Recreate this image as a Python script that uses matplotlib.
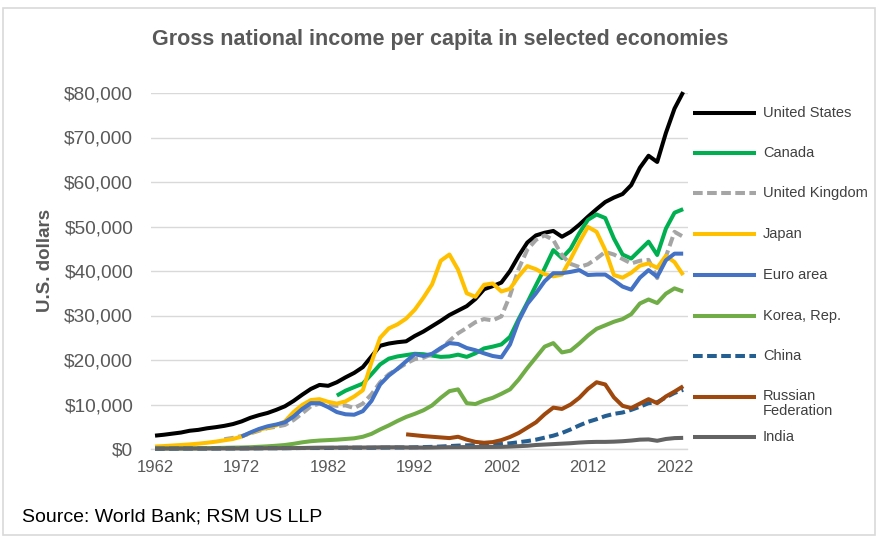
import matplotlib
matplotlib.use('Agg')
import matplotlib.pyplot as plt
from matplotlib.lines import Line2D
from matplotlib.patches import Rectangle

plt.rcParams['font.family'] = ['Liberation Sans', 'DejaVu Sans']

# ---------------- data ----------------
years_us = list(range(1962, 2024))
us = [3000, 3200, 3450, 3700, 4100, 4300, 4650, 4900, 5200, 5600,
      6200, 7000, 7600, 8100, 8800, 9600, 10800, 12200, 13500, 14400,
      14200, 15000, 16100, 17100, 18400, 20800, 23200, 23700, 24000, 24200,
      25400, 26400, 27600, 28800, 30100, 31100, 32100, 33700, 35900, 36600,
      37400, 40000, 43400, 46400, 48000, 48600, 49000, 47700, 48800, 50400,
      52200, 53900, 55500, 56500, 57300, 59300, 63200, 65900, 64500, 71000,
      76500, 80200]

years_ca = list(range(1983, 2024))
canada = [12000, 13100, 13900, 14700, 16800, 19000, 20300, 20800, 21100, 21400,
          21300, 21000, 20700, 20800, 21200, 20700, 21500, 22600, 23000, 23500,
          25200, 29200, 32900, 36800, 40600, 44700, 42900, 45000, 48500, 51500,
          52700, 51900, 47300, 43700, 42800, 44700, 46600, 43600, 49500, 53100,
          53900]

years_uk = list(range(1970, 2024))
uk = [2200, 2500, 2900, 3500, 4100, 4700, 5000, 5400, 6500, 8000,
      9600, 10200, 9900, 9700, 9800, 9200, 10200, 12300, 15000, 16800,
      18000, 19200, 20200, 20500, 21300, 22500, 24300, 26000, 27200, 28500,
      29200, 28900, 29800, 34500, 40500, 44800, 47000, 48000, 47000, 43500,
      41600, 40900, 41500, 42800, 44300, 43700, 42700, 41700, 42300, 42500,
      38400, 43200, 48800, 47700]

years_jp = list(range(1962, 2024))
japan = [550, 650, 780, 900, 1030, 1200, 1400, 1650, 1950, 2250,
         2800, 3600, 4300, 4800, 5300, 6200, 8300, 9900, 11000, 11200,
         10600, 10200, 10700, 11800, 13200, 19500, 25000, 27100, 28000, 29300,
         31300, 34000, 37000, 42300, 43700, 40300, 35000, 34200, 36900, 37200,
         35400, 36000, 38800, 41100, 40400, 39300, 38800, 39200, 42700, 46500,
         49900, 48800, 44700, 39100, 38500, 39600, 41200, 41700, 40700, 43400,
         42000, 39100]

years_eu = list(range(1972, 2024))
euro = [2800, 3700, 4500, 5100, 5500, 6000, 7300, 9000, 10300, 10300,
        9400, 8300, 7800, 7700, 8500, 10800, 14500, 16500, 18000, 19700,
        21300, 20900, 21400, 22700, 23800, 23600, 22700, 22200, 21500, 20900,
        20600, 23500, 28800, 32600, 35000, 37700, 39500, 39500, 39800, 40200,
        39100, 39200, 39200, 37900, 36500, 35800, 38500, 40200, 38700, 42400,
        43900, 43900]

years_kr = list(range(1962, 2024))
korea = [110, 120, 120, 120, 140, 160, 190, 230, 270, 310,
         340, 400, 500, 600, 740, 900, 1170, 1500, 1750, 1900,
         2000, 2100, 2250, 2400, 2750, 3400, 4400, 5300, 6300, 7200,
         7900, 8700, 9800, 11500, 13000, 13400, 10300, 10100, 10900, 11500,
         12400, 13400, 15600, 18200, 20600, 23000, 23800, 21700, 22100, 23700,
         25500, 27000, 27800, 28600, 29200, 30300, 32700, 33600, 32800, 34900,
         36100, 35400]

years_cn = list(range(1962, 2024))
china = [70, 70, 80, 100, 110, 100, 90, 100, 110, 120,
         130, 140, 150, 170, 160, 180, 200, 220, 220, 220,
         230, 260, 300, 300, 290, 270, 300, 320, 330, 340,
         380, 430, 480, 560, 660, 760, 820, 870, 940, 1020,
         1110, 1280, 1520, 1780, 2100, 2550, 3000, 3600, 4400, 5300,
         6100, 6700, 7400, 7900, 8200, 8800, 9500, 10300, 10500, 11600,
         12600, 13300]

years_ru = list(range(1991, 2024))
russia = [3300, 3100, 2900, 2750, 2600, 2450, 2750, 2100, 1600, 1400,
          1550, 2000, 2700, 3600, 4800, 6000, 7800, 9300, 9000, 10000,
          11500, 13500, 15000, 14500, 11600, 9700, 9200, 10200, 11200, 10300,
          11800, 12900, 14100]

years_in = list(range(1962, 2024))
india = [90, 100, 110, 120, 110, 110, 110, 110, 120, 120,
         120, 130, 150, 170, 180, 190, 210, 230, 270, 300,
         310, 310, 310, 320, 330, 350, 380, 380, 390, 350,
         340, 320, 340, 380, 410, 420, 430, 440, 450, 460,
         480, 540, 630, 730, 900, 1000, 1100, 1200, 1300, 1450,
         1550, 1600, 1600, 1650, 1750, 1900, 2100, 2150, 1850, 2250,
         2450, 2500]

series_names = ["United States", "Canada", "United Kingdom", "Japan", "Euro area",
                "Korea, Rep.", "China", "Russian\nFederation", "India"]
series_years = [years_us, years_ca, years_uk, years_jp, years_eu,
                years_kr, years_cn, years_ru, years_in]
series_vals = [us, canada, uk, japan, euro, korea, china, russia, india]
colors = ["#000000", "#00B050", "#A5A5A5", "#FFC000", "#4472C4",
          "#70AD47", "#255E91", "#9E480E", "#636363"]
dashed = [False, False, True, False, False, False, True, False, False]

xticks = list(range(1962, 2023, 10))
yticks = list(range(0, 80001, 10000))

# ---------------- figure ----------------
W, H = 885, 542
fig = plt.figure(figsize=(W / 100, H / 100), dpi=100)

def fx(px):
    return px / W

def fy(py):
    return 1 - py / H

ax_l, ax_r, ax_t, ax_b = 150.7, 687.5, 93, 449
ax = fig.add_axes([fx(ax_l), fy(ax_b), (ax_r - ax_l) / W, (ax_b - ax_t) / H])

LW = 2.9
for i, (yrs, vals, c, d) in enumerate(zip(series_years, series_vals, colors, dashed)):
    kw = dict(color=c, lw=LW, zorder=3 + i, clip_on=False,
              solid_capstyle='butt', solid_joinstyle='round')
    if d:
        kw.update(linestyle=(0, (2.4, 1.1)), dash_capstyle='butt')
    ax.plot(yrs, vals, **kw)

ax.set_xlim(1961.5, 2023.5)
ax.set_ylim(0, 80000)
ax.set_yticks(yticks)
ax.set_yticklabels(["${:,}".format(v) for v in yticks])
ax.set_xticks(xticks)
ax.set_xticklabels([str(x) for x in xticks])
ax.tick_params(axis='y', length=0, pad=12.5, labelsize=13.8, labelcolor="#595959")
ax.tick_params(axis='x', length=0, pad=8, labelsize=12, labelcolor="#595959")
ax.grid(axis='y', color="#D9D9D9", lw=1.0, zorder=1)
ax.set_axisbelow(True)
for s in ['top', 'right', 'left']:
    ax.spines[s].set_visible(False)
ax.spines['bottom'].set_color("#D9D9D9")
ax.spines['bottom'].set_linewidth(1.0)

fig.text(fx(45), fy(260), "U.S. dollars", rotation=90, ha='center', va='center',
         fontsize=13.5, fontweight='bold', color="#595959")

fig.text(fx(440), fy(40), "Gross national income per capita in selected economies",
         ha='center', va='center', fontsize=15.5, fontweight='bold', color="#595959")

# legend (manual, Excel style on the right)
leg_y = [113, 153, 193, 234, 275, 316, 356, 397, 437]
for name, c, d, y in zip(series_names, colors, dashed, leg_y):
    ln = Line2D([fx(693), fx(756)], [fy(y), fy(y)], transform=fig.transFigure,
                color=c, lw=LW, solid_capstyle='butt')
    if d:
        ln.set_linestyle((0, (2.4, 1.1)))
    fig.add_artist(ln)
    if "\n" in name:
        fig.text(fx(763), fy(y - 8), name, ha='left', va='top', fontsize=10.5,
                 color="#404040", linespacing=1.1)
    else:
        fig.text(fx(763), fy(y), name, ha='left', va='center', fontsize=10.5,
                 color="#404040")

fig.text(fx(22), fy(517), "Source: World Bank; RSM US LLP", ha='left', va='center',
         fontsize=14, color="#000000")

fig.add_artist(Rectangle((fx(3), fy(535)), (875 - 3) / W, (535 - 8) / H,
                         transform=fig.transFigure, fill=False,
                         edgecolor="#D9D9D9", lw=1.2))

fig.savefig("out.png", dpi=100, facecolor='white')
